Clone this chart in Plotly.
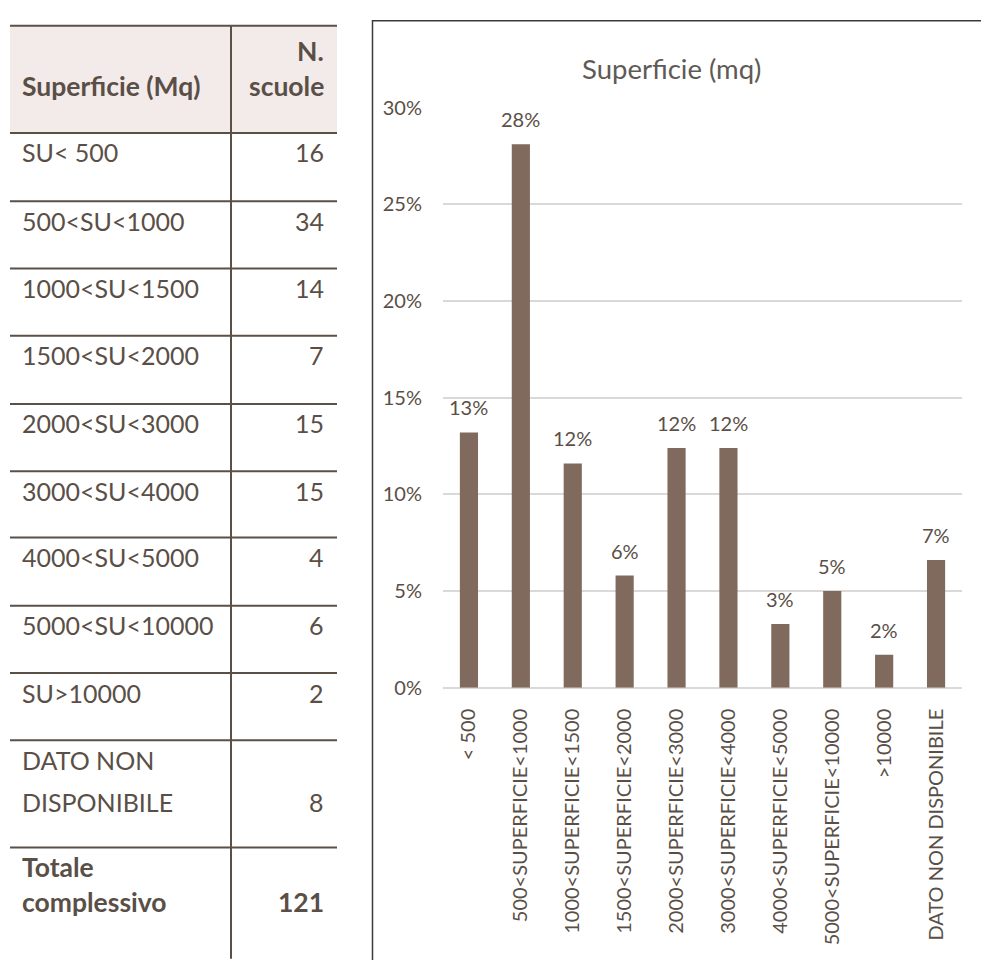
import plotly.graph_objects as go

# ---------------- data ----------------
categories = ["< 500", "500<SUPERFICIE<1000", "1000<SUPERFICIE<1500", "1500<SUPERFICIE<2000",
              "2000<SUPERFICIE<3000", "3000<SUPERFICIE<4000", "4000<SUPERFICIE<5000",
              "5000<SUPERFICIE<10000", ">10000", "DATO NON DISPONIBILE"]
shares = [0.132, 0.281, 0.116, 0.058, 0.124, 0.124, 0.033, 0.050, 0.017, 0.066]

table_header = ["Superficie (Mq)", "N.\nscuole"]
table_labels = ["SU< 500", "500<SU<1000", "1000<SU<1500", "1500<SU<2000", "2000<SU<3000",
                "3000<SU<4000", "4000<SU<5000", "5000<SU<10000", "SU>10000", "DATO NON\nDISPONIBILE"]
table_counts = [16, 34, 14, 7, 15, 15, 4, 6, 2, 8]
total_label = "Totale\ncomplessivo"
total_count = 121

chart_title = "Superficie (mq)"
y_ticks = [0, 0.05, 0.10, 0.15, 0.20, 0.25, 0.30]

# ---------------- style ----------------
W, H = 981, 960
FONT = "Lato"
TXT = "#5a4f47"
TITLE_C = "#5f5a56"
BAR = "#7f6a5d"
GRID = "#d9d9d9"
LINE = "#5b5046"
HEAD_BG = "#f3ebea"


def px(x):
    return x / W


def py(y):
    return 1 - y / H


def esc(s):
    return s.replace("&", "&amp;").replace("<", "&lt;").replace(">", "&gt;")


fig = go.Figure()

fig.add_trace(go.Bar(
    x=categories, y=shares, marker=dict(color=BAR, line=dict(width=0)),
    hoverinfo="x+y", showlegend=False,
))

# data labels
for c, v in zip(categories, shares):
    fig.add_annotation(x=c, y=v, xref="x", yref="y", text=f"{v:.0%}", showarrow=False,
                       yanchor="middle", yshift=25,
                       font=dict(family=FONT, size=20, color=TXT))

# plot area (pixels): x 443..962, y 97 (30%) .. 692 (0%)
fig.update_layout(
    width=W, height=H, margin=dict(l=0, r=0, t=0, b=0),
    paper_bgcolor="white", plot_bgcolor="white",
    bargap=0.65,
    xaxis=dict(domain=[px(443), px(962)], tickangle=-90, showgrid=False,
               showline=False, ticks="", tickfont=dict(family=FONT, size=20, color=TXT),
               tickmode="array", tickvals=categories, ticktext=[esc(c) for c in categories],
               ticklabelstandoff=16, zeroline=False),
    yaxis=dict(domain=[py(692), py(97)], range=[0, 0.30], tickvals=y_ticks,
               tickformat=".0%", showgrid=True, gridcolor=GRID, gridwidth=1.5,
               zeroline=True, zerolinecolor=GRID, zerolinewidth=1.5,
               showline=False, ticks="", ticklabelstandoff=20,
               tickfont=dict(family=FONT, size=20, color=TXT)),
)

# chart title
fig.add_annotation(x=px(671), y=py(57), xref="paper", yref="paper", text=chart_title,
                   showarrow=False, xanchor="center", yanchor="middle",
                   font=dict(family=FONT, size=27.5, color=TITLE_C))

shapes = []
# chart frame
shapes.append(dict(type="rect", xref="paper", yref="paper", x0=px(372.5), x1=px(995),
                   y0=py(975), y1=py(8), line=dict(color="#3a3a3a", width=1.5),
                   fillcolor="rgba(0,0,0,0)", layer="above"))

# ---------------- table ----------------
T_LEFT, T_RIGHT, T_DIV = 10, 337, 231
TXT_L, TXT_R = 20, 326
row_edges = [13, 123, 193, 262, 331, 401, 470, 538, 608, 677, 746, 856, 966]

shapes.append(dict(type="rect", xref="paper", yref="paper", x0=px(T_LEFT), x1=px(T_RIGHT),
                   y0=py(row_edges[1]), y1=py(row_edges[0]), fillcolor=HEAD_BG,
                   line=dict(width=0), layer="below"))
for e in row_edges[:-1]:
    shapes.append(dict(type="line", xref="paper", yref="paper", x0=px(T_LEFT), x1=px(T_RIGHT),
                       y0=py(e), y1=py(e), line=dict(color=LINE, width=2)))
shapes.append(dict(type="line", xref="paper", yref="paper", x0=px(T_DIV), x1=px(T_DIV),
                   y0=py(row_edges[0]), y1=py(H + 10), line=dict(color=LINE, width=2)))
fig.update_layout(shapes=shapes)


def cell_text(text, x, y, anchor, bold=False):
    t = esc(text)
    size = 25
    if bold:
        t = "<b>" + t + "</b>"
        size = 26.5
    fig.add_annotation(x=px(x), y=py(y), xref="paper", yref="paper", text=t, showarrow=False,
                       xanchor=anchor, yanchor="middle",
                       font=dict(family=FONT, size=size, color=TXT))


# header (bottom-aligned lines)
cell_text(table_header[0], TXT_L, 75, "left", bold=True)
hl = table_header[1].split("\n")
for k, ln in enumerate(hl):
    cell_text(ln, TXT_R, 75 - (len(hl) - 1 - k) * 36, "right", bold=True)

# body rows
rows = list(zip(table_labels, table_counts)) + [(total_label, total_count)]
for i, (lab, cnt) in enumerate(rows):
    top = row_edges[i + 1]
    bold = i == len(rows) - 1
    gap = 36 if bold else 43
    lines = lab.split("\n")
    for k, ln in enumerate(lines):
        cell_text(ln, TXT_L, top + 20 + k * gap, "left", bold=bold)
    cell_text(str(cnt), TXT_R, top + 20 + (len(lines) - 1) * gap, "right", bold=bold)

fig.write_html("out.html", config={"displayModeBar": False},
               post_script="document.body.style.margin='0';document.body.style.overflow='hidden';")
